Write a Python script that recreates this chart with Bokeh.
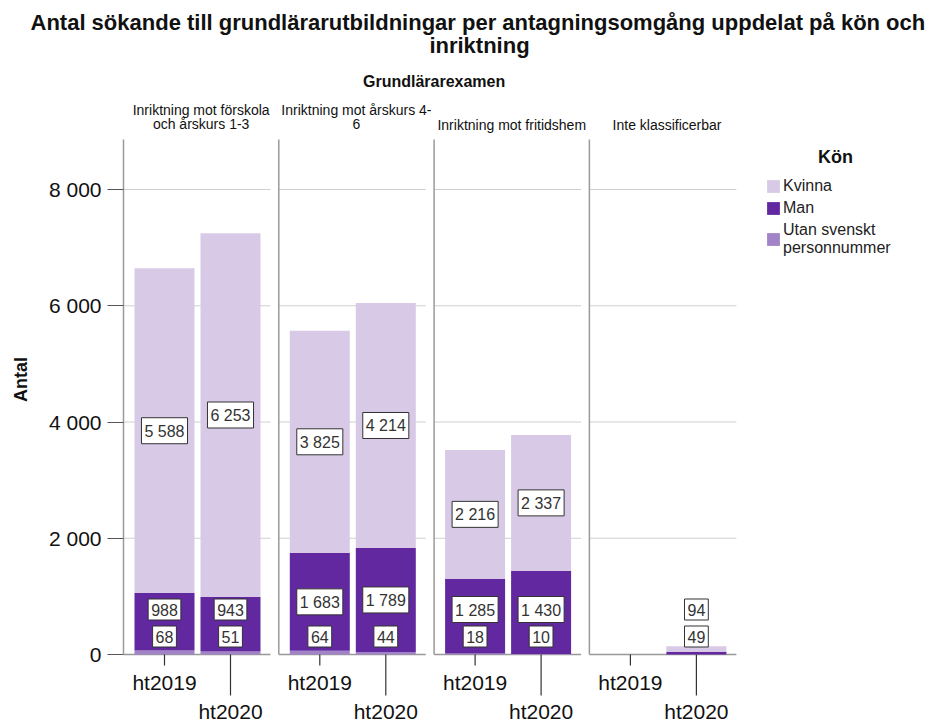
from bokeh.plotting import figure
from bokeh.models import ColumnDataSource, FixedTicker, Legend, LegendItem, Range1d
from bokeh.core.properties import value
from bokeh.embed import file_html
from bokeh.resources import INLINE

# ---------------- data ----------------
title_lines = ["Antal sökande till grundlärarutbildningar per antagningsomgång uppdelat på kön och",
               "inriktning"]
group_title = "Grundlärarexamen"
panels = ["Inriktning mot förskola\noch årskurs 1-3", "Inriktning mot årskurs 4-\n6",
          "Inriktning mot fritidshem", "Inte klassificerbar"]
years = ["ht2019", "ht2020"]
legend_title = "Kön"
series_names = ["Utan svenskt personnummer", "Man", "Kvinna"]      # stack order, bottom -> top
legend_names = ["Kvinna", "Man", "Utan svenskt\npersonnummer"]     # legend order
# one value per bar: (panel, year) in order
utan = [68, 51, 64, 44, 18, 10, 0, 0]
man = [988, 943, 1683, 1789, 1285, 1430, 0, 49]
kvinna = [5588, 6253, 3825, 4214, 2216, 2337, 0, 94]
y_ticks = [0, 2000, 4000, 6000, 8000]
y_tick_labels = ["0", "2 000", "4 000", "6 000", "8 000"]
y_axis_title = "Antal"

# ---------------- styling / geometry ----------------
FONT = "Liberation Sans"
C_KVINNA, C_MAN, C_UTAN = "#D8CAE6", "#6128A0", "#A383C8"
PANEL_PX = 155.3            # panel width in px (1 x unit)
PX_PER_1000 = 58.125        # px per 1000 on y
YPX = 1000.0 / PX_PER_1000  # data units per px on y

W, H = 926, 723
ML, MT = 121, 35            # frame left / top within canvas
frame_w, frame_h = W - ML, H - MT
x0 = -2 / PANEL_PX
x_range = Range1d(x0, x0 + frame_w / PANEL_PX)
y_top = (655 - 36) * YPX
y_range = Range1d(y_top - frame_h * YPX, y_top)

p = figure(width=W, height=H, x_range=x_range, y_range=y_range,
           output_backend="svg", toolbar_location=None, x_axis_location=None,
           min_border_left=ML, min_border_top=MT, min_border_right=0, min_border_bottom=0)
p.outline_line_color = None
p.xgrid.visible = False
p.ygrid.visible = False

# title line 1 as the figure title, line 2 centred just below it
TITLE_SIZE = 22
p.title.text = title_lines[0]
p.title.align = "left"
p.title.offset = -91
p.title.text_font = FONT
p.title.text_font_size = f"{TITLE_SIZE}px"
p.title.text_font_style = "bold"
p.title.text_color = "#111111"
p.title.standoff = 1
title_cx = (480 - 124) / PANEL_PX
p.text(x=[title_cx], y=[(655 - 46) * YPX], text=[title_lines[1]], text_font=value(FONT),
       text_font_size=f"{TITLE_SIZE}px", text_font_style="bold", text_align="center",
       text_baseline="middle", text_color="#111111")

# y axis
ax = p.yaxis[0]
ax.ticker = FixedTicker(ticks=y_ticks)
ax.major_label_overrides = {t: l for t, l in zip(y_ticks, y_tick_labels)}
ax.major_label_text_font = FONT
ax.major_label_text_font_size = "21px"
ax.major_label_text_color = "#111111"
ax.major_tick_out = 14
ax.major_tick_in = 2
ax.major_tick_line_color = "#555555"
ax.minor_tick_out = 0
ax.minor_tick_in = 0
ax.axis_line_color = None
ax.major_label_standoff = 6
ax.axis_label = y_axis_title
ax.axis_label_text_font = FONT
ax.axis_label_text_font_size = "18px"
ax.axis_label_text_font_style = "bold"
ax.axis_label_text_color = "#111111"
ax.axis_label_standoff = 15

# bar positions
bar_offsets = [41 / PANEL_PX, 107 / PANEL_PX]
bar_w = 60 / PANEL_PX
xs = []
for i in range(len(panels)):
    for j in range(len(years)):
        xs.append(i + bar_offsets[j])

src = ColumnDataSource(dict(x=xs, utan=utan, man=man, kvinna=kvinna))

# gridlines, baselines, panel borders
panel_end = 147 / PANEL_PX
gx0, gx1, gy = [], [], []
for i in range(len(panels)):
    for t in y_ticks[1:]:
        gx0.append(i); gx1.append(i + panel_end); gy.append(t)
p.segment(x0=gx0, y0=gy, x1=gx1, y1=gy, line_color="#CFCFCF", line_width=1)
bx = list(range(len(panels)))
p.segment(x0=bx, y0=[0] * len(bx), x1=[b + panel_end for b in bx], y1=[0] * len(bx),
          line_color="#999999", line_width=1.5)
border_top = (655 - 140) * YPX
p.segment(x0=bx, y0=[0] * len(bx), x1=bx, y1=[border_top] * len(bx),
          line_color="#9A9A9A", line_width=1.5)

# stacked bars
rs = p.vbar_stack(["utan", "man", "kvinna"], x="x", width=bar_w, source=src,
                  color=[C_UTAN, C_MAN, C_KVINNA], line_color=None)
r_utan, r_man, r_kvinna = rs

# x ticks (staggered) and tick labels
tick_len = [11 * YPX, 41 * YPX]
tick_lab_y = [-28 * YPX, -56.5 * YPX]
tx, ty0, ty1, tl, tly = [], [], [], [], []
for k, x in enumerate(xs):
    j = k % len(years)
    tx.append(x); ty0.append(0); ty1.append(-tick_len[j])
    tl.append(years[j]); tly.append(tick_lab_y[j])
p.segment(x0=tx, y0=ty0, x1=tx, y1=ty1, line_color="#333333", line_width=1.2)
p.text(x=tx, y=tly, text=tl, text_font=value(FONT), text_font_size="21px",
       text_align="center", text_baseline="middle", text_color="#111111")

# value labels (segment centre, pushed up to avoid overlaps)
LABEL_FLOOR = 18 * YPX
LABEL_GAP = 27 * YPX
lx, ly, lt = [], [], []
for k in range(len(xs)):
    base = 0
    prev = None
    for vals in (utan, man, kvinna):
        v = vals[k]
        if v > 0:
            mid = base + v / 2
            y = max(mid, LABEL_FLOOR if prev is None else prev + LABEL_GAP)
            lx.append(xs[k]); ly.append(y); lt.append(f"{v:,}".replace(",", " "))
            prev = y
        base += v
p.text(x=lx, y=ly, text=lt, text_font=value(FONT), text_font_size="16px",
       text_align="center", text_baseline="middle", text_color="#333333",
       background_fill_color="white", border_line_color="#333333", border_line_width=1,
       padding=dict(left=3, right=3, top=5, bottom=4))

# panel headers and group title
p.text(x=[i + 0.5 for i in range(len(panels))], y=[(655 - 133) * YPX] * len(panels),
       text=panels, text_font=value(FONT), text_font_size="14px", text_line_height=0.9,
       text_align="center", text_baseline="bottom", text_color="#111111")
p.text(x=[len(panels) / 2], y=[(655 - 82) * YPX], text=[group_title], text_font=value(FONT),
       text_font_size="16px", text_font_style="bold", text_align="center",
       text_baseline="middle", text_color="#111111")

# legend (title drawn centred above the items)
leg_x = (768 - 124) / PANEL_PX
p.text(x=[leg_x + 68 / PANEL_PX], y=[(655 - 157) * YPX], text=[legend_title],
       text_font=value(FONT), text_font_size="18px", text_font_style="bold",
       text_align="center", text_baseline="middle", text_color="#111111")
legend = Legend(items=[LegendItem(label=legend_names[0], renderers=[r_kvinna]),
                       LegendItem(label=legend_names[1], renderers=[r_man]),
                       LegendItem(label=legend_names[2], renderers=[r_utan])],
                location=(644, 466),
                label_text_font=FONT, label_text_font_size="16px", label_text_color="#222222",
                label_text_line_height=1.0,
                label_standoff=2, label_height=16, glyph_width=16, glyph_height=16,
                spacing=4, padding=0, margin=0, border_line_color=None,
                background_fill_alpha=0)
p.add_layout(legend)

open("out.html", "w").write(file_html(p, INLINE))
